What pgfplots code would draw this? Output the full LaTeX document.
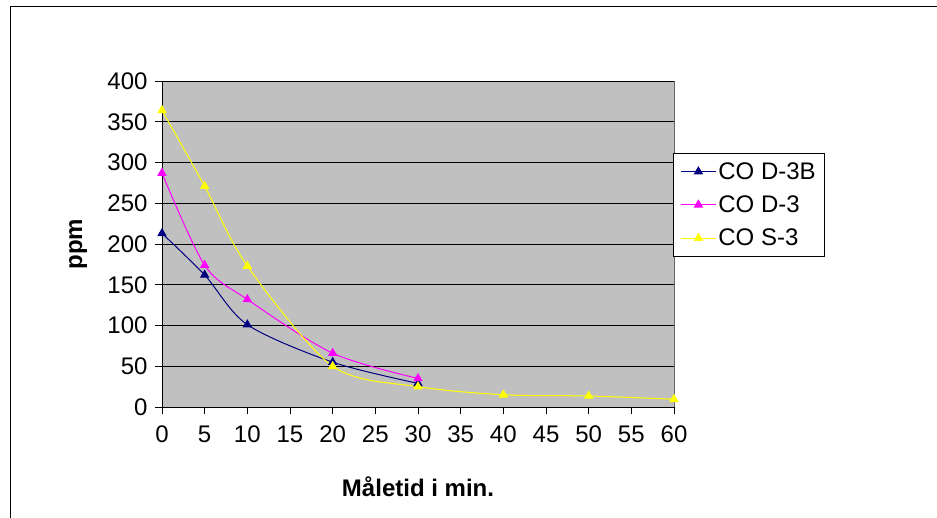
\documentclass[border=0pt]{standalone}
\usepackage{fontspec}
\setmainfont{Liberation Sans}
\usepackage{pgfplots}
\pgfplotsset{compat=1.18}
\definecolor{cnavy}{RGB}{0,0,128}
\definecolor{cmag}{RGB}{255,0,255}
\definecolor{cyel}{RGB}{255,255,0}
\definecolor{cbg}{RGB}{192,192,192}
\newcommand{\bigf}{\fontsize{24}{28}\selectfont}
\begin{document}
\begin{tikzpicture}[x=1pt,y=1pt]
\path[use as bounding box] (0,0) rectangle (937,517);
\draw[black, line width=1pt] (10,-5) -- (10,510) -- (945,510);
\begin{axis}[
  at={(162pt,110pt)}, anchor=south west,
  scale only axis, width=512pt, height=326pt,
  xmin=0, xmax=60, ymin=0, ymax=400,
  xtick={0,5,...,60}, ytick={0,50,...,400},
  axis x line*=bottom, axis y line*=left,
  axis line style={black, line width=0.9pt, -},
  axis background/.style={fill=cbg, draw=gray!80!black},
  tick align=outside, major tick length=7pt,
  tick style={black, line width=0.8pt},
  ymajorgrids, grid style={black, line width=0.8pt},
  /pgf/number format/assume math mode=true,
  xticklabel={\pgfmathprintnumber{\tick}},
  yticklabel={\pgfmathprintnumber{\tick}},
  tick label style={font=\bigf},
  xticklabel style={yshift=-8pt},
  yticklabel style={xshift=-4pt},
  xlabel={\textbf{Måletid i min.}}, ylabel={\textbf{ppm}},
  every axis x label/.style={at={(axis description cs:0.5,-0.245)}, anchor=center, font=\bigf},
  every axis y label/.style={at={(axis description cs:-0.164,0.5)}, rotate=90, anchor=center, font=\bigf},
  legend style={draw=black, fill=white, at={(0.998,0.779)}, anchor=north west,
    font=\bigf, row sep=11pt, inner xsep=7pt, inner ysep=7pt, line width=0.8pt,
    /tikz/every even column/.append style={column sep=4pt}},
  legend cell align=left,
  legend image code/.code={\draw[mark repeat=2,mark phase=2] plot coordinates {(0pt,0pt)(17.5pt,0pt)(35pt,0pt)};},
  every axis plot/.append style={line width=1pt, smooth, tension=0.5, mark=triangle*, mark size=4.5pt},
  clip=false,
]
\addplot[color=cnavy, mark options={fill=cnavy}] coordinates {(0,213) (5,162) (10,101) (20,55) (30,29)};
\addlegendentry{CO D-3B}
\addplot[color=cmag, mark options={fill=cmag}] coordinates {(0,287) (5,174) (10,132) (20,66) (30,35)};
\addlegendentry{CO D-3}
\addplot[color=cyel, mark options={fill=cyel}] coordinates {(0,364) (5,271) (10,173) (20,50) (30,25) (40,15) (50,13.5) (60,9.5)};
\addlegendentry{CO S-3}
\end{axis}
\end{tikzpicture}
\end{document}
